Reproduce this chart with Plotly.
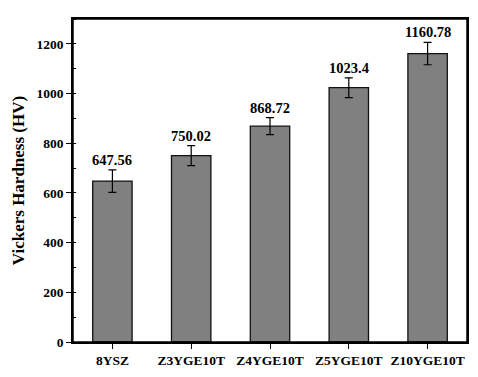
import plotly.graph_objects as go

categories = ["8YSZ", "Z3YGE10T", "Z4YGE10T", "Z5YGE10T", "Z10YGE10T"]
hardness = [647.56, 750.02, 868.72, 1023.4, 1160.78]
errors = [45, 40, 34, 40, 45]
labels = ["647.56", "750.02", "868.72", "1023.4", "1160.78"]
y_ticks = [0, 200, 400, 600, 800, 1000, 1200]

FONT = "Liberation Serif"

fig = go.Figure()
fig.add_trace(go.Bar(
    x=categories, y=hardness, width=0.5,
    marker=dict(color="#808080", line=dict(color="#111111", width=1.3)),
    error_y=dict(type="data", array=errors, visible=True, color="black",
                 thickness=1.2, width=4),
))

for c, v, e, t in zip(categories, hardness, errors, labels):
    fig.add_annotation(x=c, y=v + e, text="<b>%s</b>" % t, showarrow=False,
                       yanchor="bottom", yshift=0,
                       font=dict(family=FONT, size=14.5, color="black"))

# plot frame
fig.add_shape(type="rect", xref="paper", yref="paper", x0=0, y0=0, x1=1, y1=1,
              line=dict(color="black", width=1.5), layer="above")

# page body has an 8px default margin; compensate so the plot lands in place
fig.update_layout(
    width=470, height=369,
    margin=dict(l=57, r=9, t=10, b=35),
    plot_bgcolor="white", paper_bgcolor="white",
    showlegend=False,
    font=dict(family=FONT, color="black"),
)
fig.update_xaxes(
    showline=True, linecolor="black", linewidth=1.5, mirror=True,
    ticks="outside", ticklen=5, tickwidth=1.2, tickcolor="black",
    tickfont=dict(family=FONT, size=13.5, color="black"),
    tickprefix="<b>", ticksuffix="</b>",
    showgrid=False,
)
fig.update_yaxes(
    range=[0, 1300],
    tickvals=y_ticks, ticktext=["<b>%d</b>" % v for v in y_ticks],
    showline=True, linecolor="black", linewidth=1.5, mirror=True,
    ticks="outside", ticklen=5, tickwidth=1.2, tickcolor="black",
    tickfont=dict(family=FONT, size=13.5, color="black"),
    minor=dict(dtick=100, tick0=0, ticks="inside", ticklen=3, tickwidth=1.2,
               tickcolor="black", showgrid=False),
    showgrid=False, zeroline=False,
    title=dict(text="<b>Vickers Hardness (HV)</b>", standoff=8,
               font=dict(family=FONT, size=17, color="black")),
)

fig.write_html("out.html")
